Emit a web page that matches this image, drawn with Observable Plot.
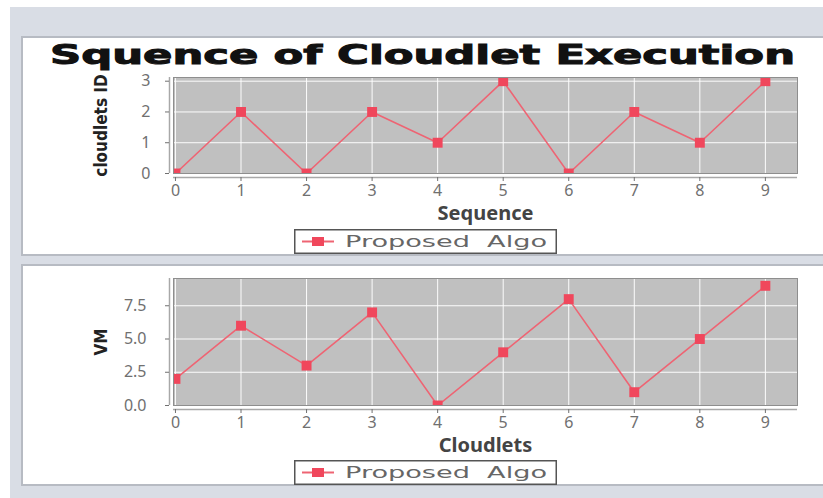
<!DOCTYPE html>
<html>
<head>
<meta charset="utf-8">
<script src="https://cdn.jsdelivr.net/npm/d3@7"></script>
<script src="https://cdn.jsdelivr.net/npm/@observablehq/plot@0.6"></script>
<style>
  html, body { margin: 0; padding: 0; background: #fff; }
  #root { position: relative; width: 823px; height: 498px; overflow: hidden; background: #fff; font-family: "DejaVu Sans", sans-serif; }
  #bg { position: absolute; left: 10px; top: 7px; right: 0; bottom: 0; background: #d9dde5; }
  .panel { position: absolute; left: 21px; width: 812px; background: #fff; border: 2px solid #b7bbc3; box-sizing: border-box; }
  .ylab { font-stretch: condensed; }
</style>
</head>
<body>
<div id="root">
  <div id="bg"></div>
  <div class="panel" style="top:36px;height:220px"></div>
  <div class="panel" style="top:264px;height:222px"></div>
</div>
<script>
// ---- data ----
const chartTitle = "Squence of Cloudlet Execution";
const seriesName = "Proposed  Algo";
const sequence = [0, 1, 2, 3, 4, 5, 6, 7, 8, 9];
const cloudletIds = [0, 2, 0, 2, 1, 3, 0, 2, 1, 3];
const cloudlets = [0, 1, 2, 3, 4, 5, 6, 7, 8, 9];
const vmIds = [2, 6, 3, 7, 0, 4, 8, 1, 5, 9];
const xTicks = [0, 1, 2, 3, 4, 5, 6, 7, 8, 9];
const yTicks1 = [0, 1, 2, 3];
const yTicks2 = [0, 2.5, 5, 7.5];
const xLabel1 = "Sequence", yLabel1 = "cloudlets ID";
const xLabel2 = "Cloudlets", yLabel2 = "VM";

const root = document.getElementById("root");
const LINE = "#ee6473", MARK = "#f0475c";

function place(el, top, left) {
  el.style.position = "absolute";
  el.style.top = top + "px";
  el.style.left = (left || 0) + "px";
  root.appendChild(el);
}

// title
{
  const ns = "http://www.w3.org/2000/svg";
  const s = document.createElementNS(ns, "svg");
  s.setAttribute("width", 823); s.setAttribute("height", 40);
  const t = document.createElementNS(ns, "text");
  t.setAttribute("x", 50); t.setAttribute("y", 28);
  t.setAttribute("font-size", 27); t.setAttribute("font-weight", "bold");
  t.setAttribute("font-family", "DejaVu Sans, sans-serif");
  t.setAttribute("fill", "#111"); t.setAttribute("stroke", "#111"); t.setAttribute("stroke-width", "1");
  t.setAttribute("textLength", 745); t.setAttribute("lengthAdjust", "spacingAndGlyphs");
  t.textContent = chartTitle;
  s.appendChild(t);
  place(s, 36);
}

function legend(top) {
  const ns = "http://www.w3.org/2000/svg";
  const s = document.createElementNS(ns, "svg");
  s.setAttribute("width", 264); s.setAttribute("height", 26);
  s.innerHTML =
    `<rect x="0.75" y="0.75" width="261.5" height="23.5" fill="#fff" stroke="#555" stroke-width="1.5"/>` +
    `<line x1="8" x2="40" y1="12.5" y2="12.5" stroke="${LINE}" stroke-width="2"/>` +
    `<rect x="18" y="8" width="12" height="9" fill="${MARK}"/>`;
  const t = document.createElementNS(ns, "text");
  t.setAttribute("x", 51); t.setAttribute("y", 18);
  t.setAttribute("font-size", 16); t.setAttribute("fill", "#666");
  t.setAttribute("font-family", "DejaVu Sans, sans-serif");
  t.setAttribute("textLength", 202); t.setAttribute("lengthAdjust", "spacingAndGlyphs");
  t.style.whiteSpace = "pre";
  t.textContent = seriesName;
  s.appendChild(t);
  place(s, top, 294);
}

function chart({xs, ys, yDomain, yTicks, yFmt, xLabel, yLabel, yLabelFont, yLabelSize, height, mTop, mBottom, tickPad, xLabelDy}) {
  const data = xs.map((x, i) => ({x, y: ys[i]}));
  const xDomain = [-0.03, 9.49];
  return Plot.plot({
    width: 823, height,
    marginLeft: 173, marginRight: 26, marginTop: mTop, marginBottom: mBottom,
    style: {background: "transparent", overflow: "visible"},
    x: {domain: xDomain},
    y: {domain: yDomain},
    marks: [
      Plot.frame({fill: "#c0c0c0"}),
      Plot.gridX({ticks: xTicks, stroke: "#fff", strokeOpacity: 0.95, strokeWidth: 1}),
      Plot.gridY({ticks: yTicks, stroke: "#fff", strokeOpacity: 0.95, strokeWidth: 1}),
      Plot.line(data, {x: "x", y: "y", stroke: LINE, strokeWidth: 1.6, clip: true}),
      Plot.dot(data, {x: "x", y: "y", symbol: "square", r: 5.6, fill: MARK, stroke: "none", clip: true}),
      Plot.frame({stroke: "#8e8e8e", strokeWidth: 1}),
      Plot.ruleX([xDomain[0]], {dx: -4, stroke: "#a8a8a8", strokeWidth: 1.5}),
      Plot.ruleY([yDomain[0]], {dy: 4, stroke: "#a8a8a8", strokeWidth: 1.5}),
      Plot.axisX({ticks: xTicks, tickFormat: d => String(d), dy: 4, tickSize: 4, tickPadding: 3,
                  fontSize: 16, color: "#707070", label: null}),
      Plot.axisY({ticks: yTicks, tickFormat: yFmt, dx: -4, tickSize: 4, tickPadding: tickPad,
                  fontSize: 16, color: "#707070", label: null}),
      Plot.text([xLabel], {text: d => d, frameAnchor: "bottom", lineAnchor: "middle", textAnchor: "middle",
                  dy: xLabelDy, fontSize: 20, fontWeight: "bold", fill: "#444"}),
      Plot.text([yLabel], {text: d => d, frameAnchor: "left", textAnchor: "middle", lineAnchor: "middle",
                  dx: -72, rotate: -90, fontSize: yLabelSize, fontWeight: "bold",
                  fontFamily: yLabelFont, fill: "#222", className: "ylab"})
    ]
  });
}

const c1 = chart({
  xs: sequence, ys: cloudletIds, yDomain: [0, 3.12], yTicks: yTicks1, yFmt: d => String(d),
  xLabel: xLabel1, yLabel: yLabel1,
  yLabelFont: "'DejaVu Sans Condensed', 'DejaVu Sans', sans-serif", yLabelSize: 17,
  height: 170, mTop: 17, mBottom: 57, tickPad: 15, xLabelDy: 40
});
place(c1, 60);

const c2 = chart({
  xs: cloudlets, ys: vmIds, yDomain: [0, 9.55], yTicks: yTicks2, yFmt: d3.format(".1f"),
  xLabel: xLabel2, yLabel: yLabel2,
  yLabelFont: "'DejaVu Sans', sans-serif", yLabelSize: 17,
  height: 193, mTop: 14, mBottom: 52, tickPad: 19, xLabelDy: 40
});
place(c2, 264);

legend(229);
legend(460);
</script>
</body>
</html>
